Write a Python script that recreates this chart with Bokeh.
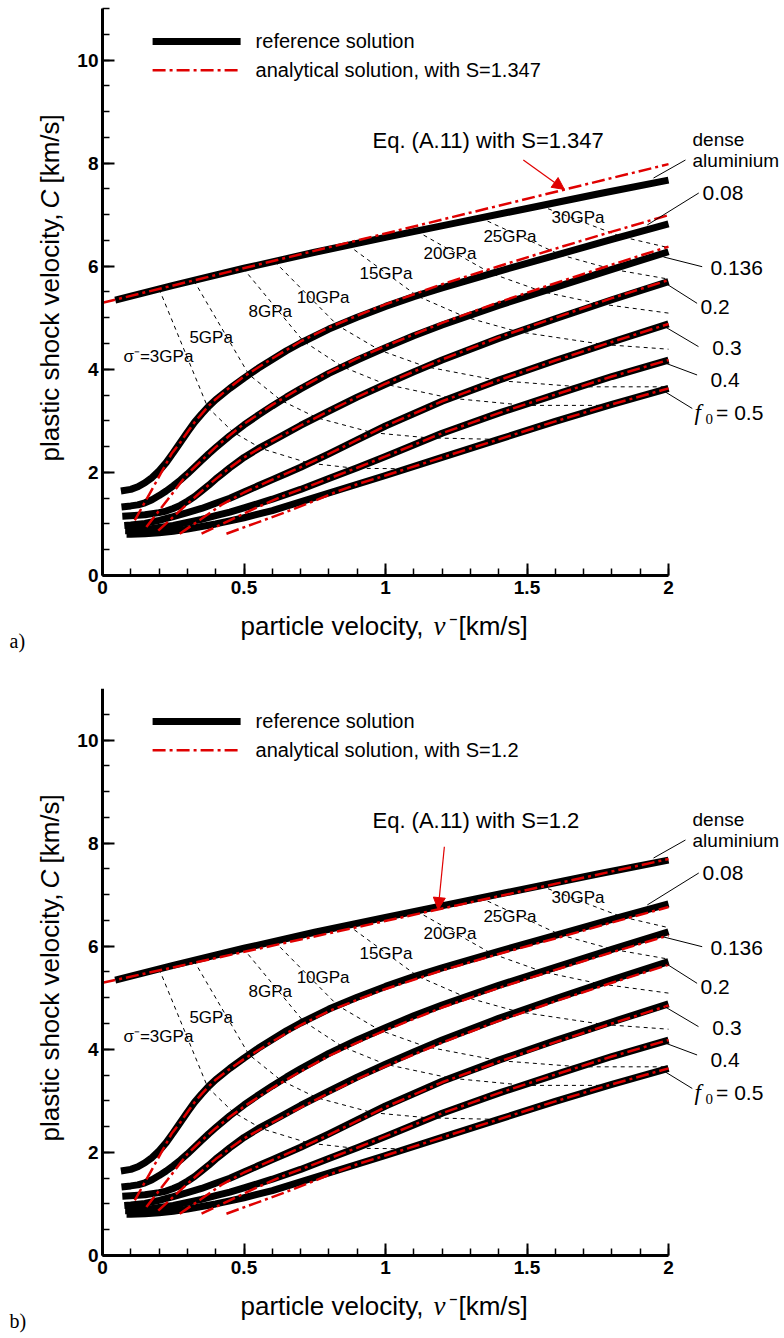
from bokeh.plotting import figure
from bokeh.models import Range1d, Arrow, NormalHead, FixedTicker, NumeralTickFormatter, LinearAxis
from bokeh.layouts import column
from bokeh.embed import file_html
from bokeh.resources import INLINE
from bokeh.core.properties import value

# ---------------- data ----------------
# dense aluminium, reference solution
DENSE_V = [0.045, 0.25, 0.5, 0.75, 1.0, 1.25, 1.5, 1.75, 2.0]
DENSE_C = [5.34, 5.63, 5.96, 6.27, 6.56, 6.84, 7.12, 7.40, 7.67]
# dense aluminium, analytical (Eq. A.11) with S=1.347 (a) and S=1.2 (b)
DENSE_AN_V = [0.0, 2.0]
DENSE_AN_C_A = [5.29, 7.98]
DENSE_AN_C_B = [5.29, 7.69]

# porous aluminium (f0 = 0.08 ... 0.5), reference solution
REF_V_008 = [0.065, 0.1, 0.125, 0.15, 0.175, 0.2, 0.225, 0.25, 0.275, 0.3, 0.325, 0.35, 0.375, 0.4, 0.45, 0.5,
             0.55, 0.6, 0.65, 0.7, 0.8, 0.9, 1.0, 1.1, 1.2, 1.4, 1.6, 1.8, 2.0]
REF_C_008 = [1.64, 1.67, 1.72, 1.80, 1.90, 2.03, 2.19, 2.38, 2.58, 2.78, 2.97, 3.13, 3.28, 3.41, 3.63, 3.83,
             4.02, 4.19, 4.36, 4.51, 4.78, 5.01, 5.22, 5.41, 5.58, 5.90, 6.21, 6.52, 6.82]
REF_V_0136 = [0.067, 0.1, 0.125, 0.15, 0.175, 0.2, 0.225, 0.25, 0.275, 0.3, 0.325, 0.35, 0.375, 0.4, 0.45, 0.5,
              0.55, 0.6, 0.65, 0.7, 0.8, 0.9, 1.0, 1.1, 1.2, 1.4, 1.6, 1.8, 2.0]
REF_C_0136 = [1.33, 1.35, 1.37, 1.41, 1.47, 1.55, 1.64, 1.74, 1.85, 1.97, 2.10, 2.23, 2.36, 2.48, 2.71, 2.92,
              3.11, 3.29, 3.46, 3.62, 3.92, 4.18, 4.42, 4.65, 4.86, 5.24, 5.59, 5.94, 6.28]
REF_V_02 = [0.07, 0.1, 0.15, 0.2, 0.225, 0.25, 0.275, 0.3, 0.325, 0.35, 0.375, 0.4, 0.425, 0.45, 0.475, 0.5,
            0.55, 0.6, 0.65, 0.7, 0.8, 0.9, 1.0, 1.1, 1.2, 1.4, 1.6, 1.8, 2.0]
REF_C_02 = [1.15, 1.16, 1.18, 1.22, 1.25, 1.30, 1.36, 1.44, 1.53, 1.64, 1.75, 1.87, 1.98, 2.09, 2.19, 2.29,
            2.46, 2.61, 2.76, 2.91, 3.19, 3.46, 3.71, 3.95, 4.18, 4.60, 4.98, 5.35, 5.70]
REF_V_03 = [0.077, 0.1, 0.15, 0.2, 0.25, 0.3, 0.35, 0.4, 0.45, 0.5, 0.55, 0.6, 0.65, 0.7, 0.8, 0.9, 1.0, 1.2,
            1.4, 1.6, 1.8, 2.0]
REF_C_03 = [0.97, 0.98, 1.01, 1.07, 1.14, 1.22, 1.30, 1.40, 1.50, 1.62, 1.74, 1.86, 1.98, 2.10, 2.36, 2.63, 2.90,
            3.38, 3.79, 4.17, 4.53, 4.88]
REF_V_04 = [0.08, 0.1, 0.15, 0.2, 0.25, 0.3, 0.35, 0.4, 0.45, 0.5, 0.6, 0.7, 0.8, 0.9, 1.0, 1.2, 1.4, 1.6, 1.8, 2.0]
REF_C_04 = [0.87, 0.87, 0.89, 0.93, 0.97, 1.03, 1.09, 1.16, 1.23, 1.31, 1.48, 1.67, 1.88, 2.09, 2.31, 2.76, 3.15,
            3.51, 3.86, 4.18]
REF_V_05 = [0.085, 0.1, 0.15, 0.2, 0.25, 0.3, 0.35, 0.4, 0.45, 0.5, 0.6, 0.7, 0.8, 0.9, 1.0, 1.2, 1.4, 1.6, 1.8, 2.0]
REF_C_05 = [0.80, 0.80, 0.81, 0.83, 0.86, 0.90, 0.95, 1.00, 1.06, 1.12, 1.26, 1.43, 1.60, 1.77, 1.94, 2.29, 2.64,
            2.99, 3.32, 3.63]

# porous, analytical solution (a: S=1.347, b: S=1.2)
AN_V_008 = [0.114, 0.18, 0.244, 0.275, 0.3, 0.325, 0.35, 0.375, 0.4, 0.45, 0.5, 0.6, 0.7, 0.8, 0.9, 1.0, 1.2, 1.4,
            1.6, 1.8, 2.0]
AN_C_008_A = [1.07, 1.72, 2.36, 2.58, 2.78, 2.97, 3.13, 3.29, 3.42, 3.65, 3.86, 4.21, 4.54, 4.81, 5.04, 5.26, 5.65,
              6.00, 6.34, 6.67, 6.99]
AN_C_008_B = [1.07, 1.72, 2.36, 2.58, 2.78, 2.97, 3.13, 3.28, 3.41, 3.62, 3.81, 4.15, 4.47, 4.74, 4.96, 5.17, 5.53,
              5.85, 6.15, 6.46, 6.76]
AN_V_0136 = [0.155, 0.23, 0.30, 0.325, 0.35, 0.375, 0.4, 0.45, 0.5, 0.6, 0.7, 0.8, 0.9, 1.0, 1.2, 1.4, 1.6, 1.8, 2.0]
AN_C_0136_A = [0.94, 1.47, 1.97, 2.10, 2.23, 2.36, 2.49, 2.72, 2.94, 3.31, 3.64, 3.94, 4.21, 4.45, 4.90, 5.30, 5.67,
               6.03, 6.38]
AN_C_0136_B = [0.94, 1.47, 1.97, 2.10, 2.23, 2.35, 2.47, 2.69, 2.89, 3.25, 3.57, 3.87, 4.13, 4.37, 4.81, 5.19, 5.54,
               5.88, 6.21]
AN_V_02 = [0.197, 0.30, 0.38, 0.4, 0.425, 0.45, 0.5, 0.6, 0.7, 0.8, 0.9, 1.0, 1.2, 1.4, 1.6, 1.8, 2.0]
AN_C_02_A = [0.87, 1.39, 1.78, 1.87, 1.98, 2.09, 2.29, 2.61, 2.91, 3.19, 3.46, 3.72, 4.19, 4.62, 5.00, 5.38, 5.73]
AN_C_02_B = [0.87, 1.39, 1.78, 1.87, 1.97, 2.08, 2.27, 2.58, 2.87, 3.15, 3.42, 3.67, 4.13, 4.55, 4.93, 5.29, 5.64]
AN_V_03 = [0.273, 0.35, 0.42, 0.5, 0.6, 0.7, 0.8, 0.9, 1.0, 1.2, 1.4, 1.6, 1.8, 2.0]
AN_C_03_A = [0.81, 1.10, 1.37, 1.61, 1.86, 2.10, 2.36, 2.63, 2.90, 3.38, 3.79, 4.17, 4.53, 4.88]
AN_C_03_B = [0.81, 1.10, 1.37, 1.61, 1.85, 2.09, 2.34, 2.61, 2.88, 3.36, 3.76, 4.14, 4.50, 4.85]
AN_V_04 = [0.35, 0.45, 0.55, 0.65, 0.7, 0.8, 0.9, 1.0, 1.2, 1.4, 1.6, 1.8, 2.0]
AN_C_04_A = [0.81, 1.07, 1.33, 1.57, 1.67, 1.88, 2.09, 2.31, 2.76, 3.15, 3.51, 3.86, 4.18]
AN_C_04_B = [0.81, 1.07, 1.33, 1.57, 1.67, 1.88, 2.09, 2.31, 2.76, 3.15, 3.51, 3.86, 4.18]
AN_V_05 = [0.438, 0.633, 0.75, 0.82, 0.9, 1.0, 1.2, 1.4, 1.6, 1.8, 2.0]
AN_C_05_A = [0.81, 1.20, 1.45, 1.61, 1.77, 1.94, 2.29, 2.64, 2.99, 3.32, 3.63]
AN_C_05_B = [0.81, 1.20, 1.45, 1.61, 1.77, 1.94, 2.29, 2.64, 2.99, 3.32, 3.63]

# isobars (constant shock stress), dashed
ISO03_V = [0.20, 0.372, 0.462, 0.563, 0.729, 0.893, 1.075]
ISO03_C = [5.56, 3.26, 2.78, 2.46, 2.18, 2.08, 2.07]
ISO05_V = [0.323, 0.517, 0.63, 0.757, 0.955, 1.152, 1.40]
ISO05_C = [5.72, 3.90, 3.40, 3.06, 2.77, 2.67, 2.64]
ISO08_V = [0.497, 0.709, 0.848, 1.0, 1.23, 1.495, 1.792]
ISO08_C = [5.96, 4.55, 4.05, 3.71, 3.44, 3.30, 3.30]
ISO10_V = [0.608, 0.831, 0.98, 1.143, 1.40, 1.688, 2.0]
ISO10_C = [6.09, 4.85, 4.37, 4.05, 3.78, 3.66, 3.66]
ISO15_V = [0.867, 1.113, 1.284, 1.467, 1.772, 2.0]
ISO15_C = [6.41, 5.42, 5.01, 4.73, 4.48, 4.39]
ISO20_V = [1.11, 1.374, 1.558, 1.757, 2.0]
ISO20_C = [6.68, 5.86, 5.50, 5.27, 5.09]
ISO25_V = [1.335, 1.618, 1.802, 2.0]
ISO25_C = [6.94, 6.22, 5.94, 5.75]
ISO30_V = [1.548, 1.835, 2.0]
ISO30_C = [7.17, 6.57, 6.36]

ISO_LABELS = ["σ⁻=3GPa", "5GPa", "8GPa", "10GPa", "15GPa", "20GPa", "25GPa", "30GPa"]
CURVE_LABELS = ["0.08", "0.136", "0.2", "0.3", "0.4"]
LEGEND_LABELS_A = ["reference solution", "analytical solution, with S=1.347"]
LEGEND_LABELS_B = ["reference solution", "analytical solution, with S=1.2"]
EQ_TEXT_A = "Eq. (A.11) with S=1.347"
EQ_TEXT_B = "Eq. (A.11) with S=1.2"

X_TICKS = [0, 0.5, 1, 1.5, 2]
Y_TICKS = [0, 2, 4, 6, 8, 10]

# ---------------- styling / layout ----------------
SANS = "Liberation Sans"
SERIF = "Liberation Serif"
RED = "#e00000"
RED_DASH = "13 4 3 4"
PAGE_W = 784
X0_PX = 102.0      # page x of v = 0
PX_PER_V = 283.0
PX_PER_C = 51.55
Y0_PX = 575.0      # y = 0, measured from the panel's top (+8 for the top padding of panel a)


def add_axes(p):
    xax = LinearAxis(fixed_location=0, ticker=FixedTicker(ticks=X_TICKS, minor_ticks=[i / 10 for i in range(21)]),
                     formatter=NumeralTickFormatter(format="0.[0]"), bounds=(0, 2))
    yax = LinearAxis(fixed_location=0, ticker=FixedTicker(ticks=Y_TICKS, minor_ticks=[i / 2 for i in range(23)]),
                     formatter=NumeralTickFormatter(format="0"), bounds=(0, 11))
    for ax in (xax, yax):
        ax.axis_line_width = 3
        ax.major_tick_in = 12
        ax.major_tick_out = 0
        ax.minor_tick_in = 7
        ax.minor_tick_out = 0
        ax.major_tick_line_width = 2
        ax.minor_tick_line_width = 1.5
        ax.major_label_text_font = SANS
        ax.major_label_text_font_size = "19px"
        ax.major_label_text_font_style = "bold"
        ax.major_label_text_color = "black"
    xax.major_label_standoff = 5
    yax.major_label_standoff = 4
    p.add_layout(xax, "below")
    p.add_layout(yax, "left")


def make_panel(dense_an_c, an_c, legend_labels, eq_text, arrow, tag, height, y0_px):
    # the frame fills the whole canvas; data ranges chosen so that the original pixel scale is kept
    x_lo = -X0_PX / PX_PER_V
    x_hi = (PAGE_W - X0_PX) / PX_PER_V
    y_hi = y0_px / PX_PER_C
    y_lo = (y0_px - height) / PX_PER_C
    p = figure(width=PAGE_W, height=height,
               x_range=Range1d(x_lo, x_hi), y_range=Range1d(y_lo, y_hi),
               output_backend="svg", toolbar_location=None,
               x_axis_location=None, y_axis_location=None,
               min_border_left=0, min_border_right=0, min_border_top=0, min_border_bottom=0)
    p.outline_line_color = None
    p.grid.visible = False
    p.background_fill_color = "white"
    p.border_fill_color = "white"
    add_axes(p)

    # isobars
    for iv, ic in [(ISO03_V, ISO03_C), (ISO05_V, ISO05_C), (ISO08_V, ISO08_C), (ISO10_V, ISO10_C),
                   (ISO15_V, ISO15_C), (ISO20_V, ISO20_C), (ISO25_V, ISO25_C), (ISO30_V, ISO30_C)]:
        p.line(iv, ic, line_color="black", line_width=1, line_dash="4 4")

    # reference solutions (thick black)
    for rv, rc in [(DENSE_V, DENSE_C), (REF_V_008, REF_C_008), (REF_V_0136, REF_C_0136),
                   (REF_V_02, REF_C_02), (REF_V_03, REF_C_03), (REF_V_04, REF_C_04),
                   (REF_V_05, REF_C_05)]:
        p.line(rv, rc, line_color="black", line_width=7, line_join="round")

    # analytical solutions (red dash-dot)
    p.line(DENSE_AN_V, dense_an_c, line_color=RED, line_width=2.5, line_dash=RED_DASH)
    for av, ac in zip([AN_V_008, AN_V_0136, AN_V_02, AN_V_03, AN_V_04, AN_V_05], an_c):
        p.line(av, ac, line_color=RED, line_width=2.5, line_dash=RED_DASH)

    # legend (drawn by hand to match the original layout)
    p.line([0.177, 0.488], [10.36, 10.36], line_color="black", line_width=7)
    p.line([0.177, 0.488], [9.80, 9.80], line_color=RED, line_width=2.5, line_dash=RED_DASH)
    p.text(x=[0.541, 0.541], y=[10.36, 9.80], text=legend_labels,
           text_font=value(SANS), text_font_size="20px",
           text_baseline="middle", text_align="left", text_color="black")

    # isobar labels
    p.text(x=[0.074, 0.307, 0.516, 0.686, 0.908, 1.134, 1.346, 1.587],
           y=[4.25, 4.62, 5.13, 5.40, 5.85, 6.25, 6.57, 6.94],
           text=ISO_LABELS, text_font=value(SANS), text_font_size="17px",
           text_baseline="middle", text_align="left", text_color="black")

    # equation label and arrow
    p.text(x=[0.954], y=[8.43], text=[eq_text], text_font=value(SANS), text_font_size="22px",
           text_baseline="middle", text_align="left", text_color="black")
    p.add_layout(Arrow(end=NormalHead(size=12, fill_color=RED, line_color=RED, line_width=1),
                       x_start=arrow[0], y_start=arrow[1], x_end=arrow[2], y_end=arrow[3],
                       line_color=RED, line_width=1.2))

    # curve labels at right with leader lines
    p.segment(x0=[1.947, 1.925, 1.982, 1.989, 1.989, 1.989, 1.989],
              y0=[7.71, 6.80, 6.18, 5.67, 4.82, 4.12, 3.56],
              x1=[2.060, 2.107, 2.119, 2.101, 2.106, 2.101, 2.084],
              y1=[8.06, 7.42, 5.99, 5.28, 4.44, 3.89, 3.24],
              line_color="black", line_width=1)
    p.text(x=[2.085, 2.085], y=[8.45, 8.06], text=["dense", "aluminium"],
           text_font=value(SANS), text_font_size="19px",
           text_baseline="middle", text_align="left", text_color="black")
    p.text(x=[2.120, 2.148, 2.113, 2.155, 2.148], y=[7.42, 5.96, 5.21, 4.41, 3.79],
           text=CURVE_LABELS, text_font=value(SANS), text_font_size="21px",
           text_baseline="middle", text_align="left", text_color="black")
    p.text(x=[2.092], y=[3.17], text=["f"], text_font=value(SERIF), text_font_size="23px",
           text_font_style="italic", text_baseline="middle", text_align="left", text_color="black")
    p.text(x=[2.131], y=[3.03], text=["0"], text_font=value(SERIF), text_font_size="15px",
           text_baseline="middle", text_align="left", text_color="black")
    p.text(x=[2.168], y=[3.17], text=["= 0.5"], text_font=value(SANS), text_font_size="21px",
           text_baseline="middle", text_align="left", text_color="black")

    # axis titles (pieces so that the symbols can be italic)
    p.text(x=[0.4876], y=[-0.97], text=["particle velocity,"], text_font=value(SANS), text_font_size="26px",
           text_baseline="middle", text_align="left", text_color="black")
    p.text(x=[1.1696], y=[-0.97], text=["ν"], text_font=value(SERIF), text_font_size="27px",
           text_font_style="italic", text_baseline="middle", text_align="left", text_color="black")
    p.text(x=[1.2261], y=[-0.97], text=["⁻[km/s]"], text_font=value(SANS), text_font_size="26px",
           text_baseline="middle", text_align="left", text_color="black")
    p.text(x=[-0.1855], y=[2.211], text=["plastic shock velocity,"], angle=1.5707963, text_font=value(SANS),
           text_font_size="26px", text_baseline="middle", text_align="left", text_color="black")
    p.text(x=[-0.1855], y=[7.12], text=["C"], angle=1.5707963, text_font=value(SANS),
           text_font_size="26px", text_font_style="italic", text_baseline="middle", text_align="left",
           text_color="black")
    p.text(x=[-0.1855], y=[7.604], text=["[km/s]"], angle=1.5707963, text_font=value(SANS),
           text_font_size="26px", text_baseline="middle", text_align="left", text_color="black")

    # panel tag
    p.text(x=[-0.3286], y=[-1.261], text=[tag], text_font=value(SERIF), text_font_size="20px",
           text_baseline="middle", text_align="left", text_color="black")
    return p


p1 = make_panel(DENSE_AN_C_A, [AN_C_008_A, AN_C_0136_A, AN_C_02_A, AN_C_03_A, AN_C_04_A, AN_C_05_A],
                LEGEND_LABELS_A, EQ_TEXT_A, (1.487, 8.06, 1.632, 7.49), "a)", 688, 575.0)
p2 = make_panel(DENSE_AN_C_B, [AN_C_008_B, AN_C_0136_B, AN_C_02_B, AN_C_03_B, AN_C_04_B, AN_C_05_B],
                LEGEND_LABELS_B, EQ_TEXT_B, (1.208, 7.93, 1.186, 6.71), "b)", 650, 567.0)

layout = column(p1, p2, spacing=0)
open("out.html", "w").write(file_html(layout, INLINE))
